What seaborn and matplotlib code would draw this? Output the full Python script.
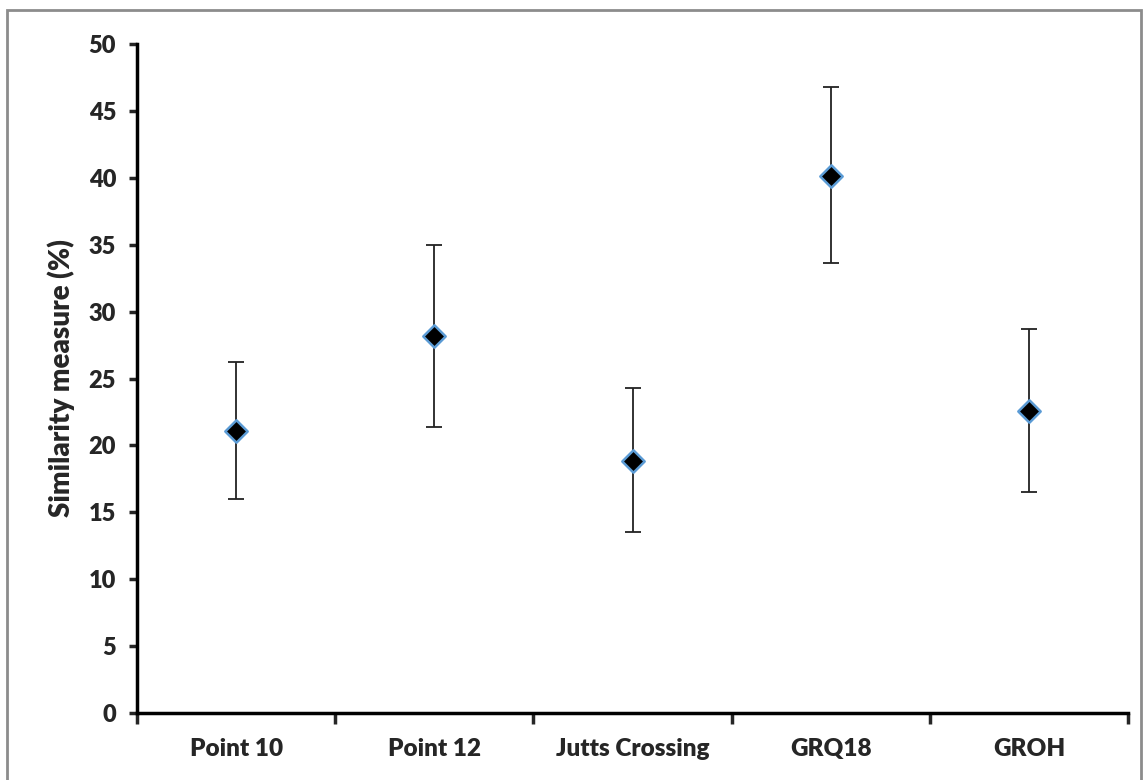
import matplotlib
matplotlib.use("Agg")
import matplotlib.pyplot as plt
import seaborn as sns
import pandas as pd
import numpy as np
from matplotlib.patches import Rectangle

categories = ["Point 10", "Point 12", "Jutts Crossing", "GRQ18", "GROH"]
means = [21.1, 28.2, 18.8, 40.1, 22.6]
upper = [26.2, 35.0, 24.3, 46.8, 28.7]
lower = [16.0, 21.4, 13.5, 33.6, 16.5]
yticks = [0, 5, 10, 15, 20, 25, 30, 35, 40, 45, 50]

sns.set_theme(style="white")
plt.rcParams['font.family'] = ['Lato', 'DejaVu Sans']

df = pd.DataFrame({"site": categories, "value": means,
                   "upper": upper, "lower": lower})

fig = plt.figure(figsize=(11.44, 7.8), dpi=100)
ax = fig.add_axes([137/1144, 1-713/780, (1128-137)/1144, (713-44)/780])

x = np.arange(len(categories))
yerr = [df["value"] - df["lower"], df["upper"] - df["value"]]
ax.errorbar(x, df["value"], yerr=yerr, fmt="none", ecolor="#222222",
            elinewidth=1.3, capsize=6, capthick=1.3, zorder=2)
sns.scatterplot(x=x, y=df["value"], marker="D", s=130, color="black",
                edgecolor="#5b9bd5", linewidth=1.8, ax=ax, zorder=3, legend=False)

ax.set_xlim(-0.5, len(categories) - 0.5)
ax.set_ylim(0, 50)
ax.set_yticks(yticks)
ax.set_yticklabels([str(t) for t in yticks], fontsize=17, fontweight="heavy")

ax.set_xticks(np.arange(len(categories) + 1) - 0.5)
ax.set_xticklabels([])
ax.set_xticks(x, minor=True)
ax.set_xticklabels(categories, minor=True, fontsize=17.5, fontweight="heavy")
ax.tick_params(axis="x", which="major", direction="out", length=8, width=2.5, bottom=True)
ax.tick_params(axis="x", which="minor", length=0, pad=18)
ax.tick_params(axis="y", direction="out", length=6, width=2.5, left=True, pad=9)

for s in ["top", "right"]:
    ax.spines[s].set_visible(False)
for s in ["left", "bottom"]:
    ax.spines[s].set_linewidth(2.5)
    ax.spines[s].set_color("black")

ax.set_xlabel("")
ax.set_ylabel("Similarity measure (%)", fontsize=20, fontweight="heavy", labelpad=10)

fig.patches.append(Rectangle((7/1144, -0.05), (1141-7)/1144, 1.05 - 10/780,
                             transform=fig.transFigure, fill=False,
                             edgecolor="#8c8c8c", linewidth=2))

fig.savefig("out.png", dpi=100)
